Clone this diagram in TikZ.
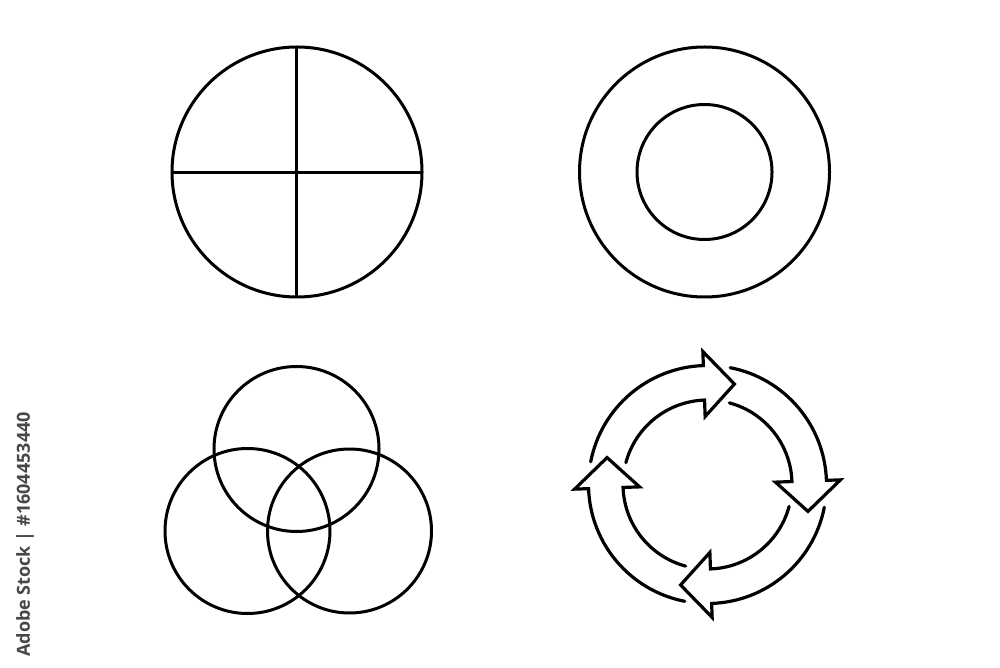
\documentclass[tikz,border=0pt]{standalone}
\usepackage{fontspec}
\newfontfamily\wmfont{Open Sans}
\begin{document}
\begin{tikzpicture}[x=1pt,y=1pt,
  outline/.style={draw=black, line width=3pt},
  arrowline/.style={draw=black, line width=3.2pt, line join=miter, line cap=round},
  stocktext/.style={font=\wmfont\bfseries\fontsize{18}{21}\selectfont, text=black!72, inner sep=0pt}]
\useasboundingbox (0,0) rectangle (1000,667);
\fill[white] (0,0) rectangle (1000,667);

% quartered circle
\coordinate (qc) at (297,495);
\draw[outline] (qc) circle[radius=125];
\coordinate (qtop) at (296,620.5);
\coordinate (qbot) at (296,370);
\coordinate (qleft) at (172.5,494.5);
\coordinate (qright) at (422,494.5);
\draw[outline] (qtop) -- (qbot);
\draw[outline] (qleft) -- (qright);

% ring
\coordinate (rc) at (704.5,495);
\draw[outline] (rc) circle[radius=125];
\draw[outline] (rc) circle[radius=67.5];

% venn
\coordinate (vt) at (296.5,218);
\coordinate (vl) at (247.5,136);
\coordinate (vr) at (349.5,136);
\draw[outline] (vt) circle[radius=82.5];
\draw[outline] (vl) circle[radius=82.5];
\draw[outline] (vr) circle[radius=82];

% cycle arrows
\begin{scope}[shift={(707.5,182.5)}]
\foreach \k in {0,1,2,3} {
  \pgfmathsetmacro\So{169-90*\k}
  \pgfmathsetmacro\Si{165-90*\k}
  \pgfmathsetmacro\B{92-90*\k}
  \pgfmathsetmacro\T{75-90*\k}
  \draw[arrowline] (\So:119) arc[start angle=\So, end angle=\B, radius=119]
    -- (\B:133) -- (\T:104) -- (\B:68) -- (\B:84.5)
    arc[start angle=\B, end angle=\Si, radius=84.5];
}
\end{scope}

% stock id
\node[stocktext, rotate=90, anchor=east] (sid) at (25,255) {Adobe Stock | \#1604453440};
\end{tikzpicture}
\end{document}
